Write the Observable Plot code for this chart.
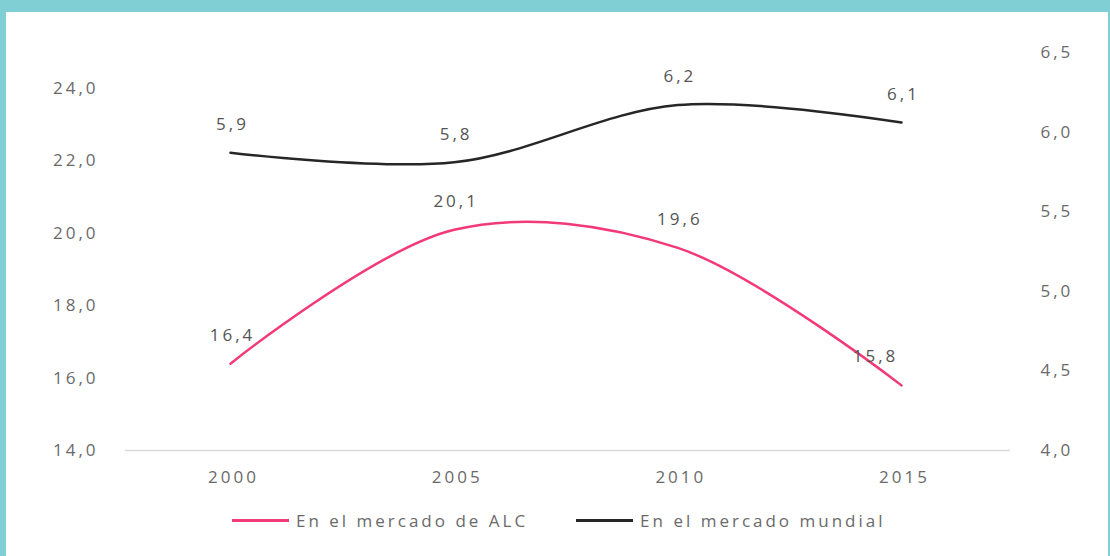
<!DOCTYPE html>
<html>
<head>
<meta charset="utf-8">
<script src="https://cdn.jsdelivr.net/npm/d3@7"></script>
<script src="https://cdn.jsdelivr.net/npm/@observablehq/plot@0.6"></script>
<style>
  html, body { margin: 0; padding: 0; background: #fff; }
  #wrap { position: relative; width: 1110px; height: 556px; overflow: hidden; background: #fff;
          font-family: "Open Sans", sans-serif; }
  #chart { position: absolute; left: 0; top: 0; }
  .bt { position: absolute; left: 0; top: 0; width: 1110px; height: 12px; background: #7fcfd4; }
  .bl { position: absolute; left: 0; top: 0; width: 6px; height: 556px; background: #7fcfd4; }
  .br { position: absolute; right: 0; top: 0; width: 2px; height: 556px; background: #7fcfd4; }
  #legend { position: absolute; top: 509px; left: 232px; display: flex; align-items: center;
            font-size: 17px; color: #6a6a6a; letter-spacing: 3px; white-space: nowrap; }
  .item { display: flex; align-items: center; }
  .item + .item { margin-left: 48px; }
  .sw { width: 57px; height: 3px; margin-right: 7px; }
</style>
</head>
<body>
<div id="wrap">
  <div id="chart"></div>
  <div class="bt"></div><div class="bl"></div><div class="br"></div>
  <div id="legend"></div>
</div>
<script>
// ---- data ----
const years = [2000, 2005, 2010, 2015];
const alc = [16.4, 20.1, 19.6, 15.8];          // left axis
const mundial = [5.87, 5.81, 6.17, 6.06];      // right axis
const seriesNames = ["En el mercado de ALC", "En el mercado mundial"];
const leftTicks = [14, 16, 18, 20, 22, 24];
const rightTicks = [4.0, 4.5, 5.0, 5.5, 6.0, 6.5];
const colors = ["#f23a78", "#262626"];

// ---- dual-axis mapping: right [4, 6.5] onto left [14, 25] ----
const L0 = 14, L1 = 25, R0 = 4, R1 = 6.5;
const toLeft = v => L0 + (v - R0) * (L1 - L0) / (R1 - R0);
const toRight = v => R0 + (v - L0) * (R1 - R0) / (L1 - L0);
const fmt = v => v.toFixed(1).replace(".", ",");

const dA = years.map((y, i) => ({year: y, v: alc[i], label: fmt(alc[i]), last: i === years.length - 1}));
const dM = years.map((y, i) => ({year: y, v: toLeft(mundial[i]), label: fmt(mundial[i])}));

const textColor = "#6a6a6a";
const chart = Plot.plot({
  width: 1110,
  height: 500,
  marginLeft: 125,
  marginRight: 100,
  marginTop: 52,
  marginBottom: 50,
  style: {fontFamily: "Open Sans, sans-serif", fontSize: "17px", color: textColor, background: "transparent", letterSpacing: "3px"},
  x: {domain: [2000, 2015], range: [230, 901], label: null},
  y: {domain: [L0, L1], label: null},
  marks: [
    Plot.ruleY([14], {stroke: "#d9d9d9", strokeWidth: 1.5}),
    Plot.axisY({ticks: leftTicks, anchor: "left", tickSize: 0, tickPadding: 27, tickFormat: fmt, label: null, fill: textColor}),
    Plot.axisY({ticks: rightTicks.map(toLeft), anchor: "right", tickSize: 0, tickPadding: 30,
                tickFormat: d => fmt(toRight(d)), label: null, fill: textColor}),
    Plot.axisX({ticks: years, tickSize: 0, tickPadding: 20, dx: 3, tickFormat: d => String(d), label: null, fill: textColor}),
    Plot.line(dM, {x: "year", y: "v", stroke: colors[1], strokeWidth: 2.5, curve: "catmull-rom"}),
    Plot.line(dA, {x: "year", y: "v", stroke: colors[0], strokeWidth: 2.5, curve: "catmull-rom"}),
    Plot.text(dM, {x: "year", y: "v", text: "label", dy: -28, dx: 2, fill: "#555", fontSize: 17}),
    Plot.text(dA.filter(d => !d.last), {x: "year", y: "v", text: "label", dy: -28, dx: 2, fill: "#555", fontSize: 17}),
    Plot.text(dA.filter(d => d.last), {x: "year", y: "v", text: "label", dy: -29, dx: -26, fill: "#555", fontSize: 17})
  ]
});
document.getElementById("chart").appendChild(chart);

const legend = document.getElementById("legend");
seriesNames.forEach((name, i) => {
  const it = document.createElement("div");
  it.className = "item";
  const sw = document.createElement("div");
  sw.className = "sw";
  sw.style.background = colors[i];
  const t = document.createElement("span");
  t.textContent = name;
  it.appendChild(sw); it.appendChild(t);
  legend.appendChild(it);
});
</script>
</body>
</html>
